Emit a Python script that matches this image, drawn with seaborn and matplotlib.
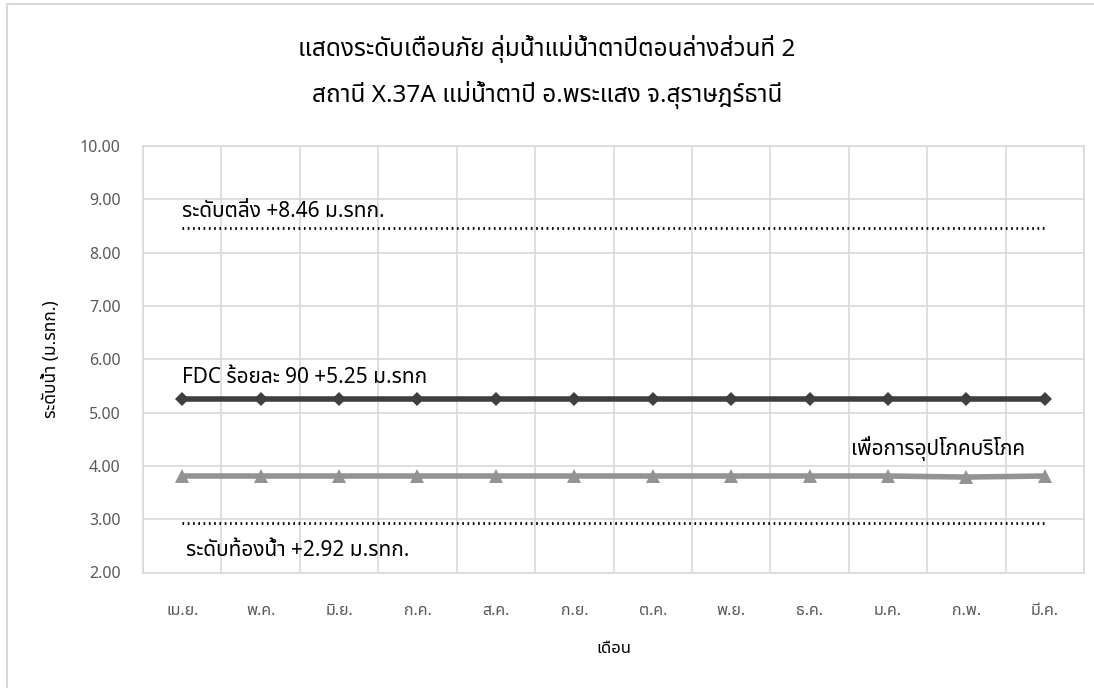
import matplotlib
matplotlib.use("Agg")
import matplotlib.pyplot as plt
import seaborn as sns
import pandas as pd
from matplotlib import font_manager
from matplotlib.patches import Rectangle

months = ["เม.ย.", "พ.ค.", "มิ.ย.", "ก.ค.", "ส.ค.", "ก.ย.", "ต.ค.", "พ.ย.", "ธ.ค.", "ม.ค.", "ก.พ.", "มี.ค."]
bank_level = [8.46] * 12
fdc90 = [5.25] * 12
consumption = [3.81, 3.81, 3.81, 3.81, 3.81, 3.81, 3.81, 3.81, 3.81, 3.81, 3.79, 3.81]
bed_level = [2.92] * 12
yticks = [2.0, 3.0, 4.0, 5.0, 6.0, 7.0, 8.0, 9.0, 10.0]

title = "แสดงระดับเตือนภัย ลุ่มน้ำแม่น้ำตาปีตอนล่างส่วนที่ 2\nสถานี X.37A แม่น้ำตาปี อ.พระแสง จ.สุราษฎร์ธานี"
xlabel = "เดือน"
ylabel = "ระดับน้ำ (ม.รทก.)"
lbl_bank = "ระดับตลิ่ง +8.46 ม.รทก."
lbl_fdc = "FDC ร้อยละ 90 +5.25 ม.รทก"
lbl_cons = "เพื่อการอุปโภคบริโภค"
lbl_bed = "ระดับท้องน้ำ +2.92 ม.รทก."


def find_thai_font():
    try:
        from fontTools.ttLib import TTFont
    except Exception:
        return None
    prefs = ["Noto Sans Thai", "Tahoma", "Loma", "Garuda", "Norasi", "Sarabun", "Kinnari"]
    found = []
    for f in font_manager.fontManager.ttflist:
        try:
            tt = TTFont(f.fname, fontNumber=0, lazy=True)
            cmap = tt.getBestCmap()
            if cmap and 0x0E2A in cmap and 0x0E49 in cmap and 0x0E33 in cmap:
                found.append(f.name)
        except Exception:
            pass
    for p in prefs:
        if p in found:
            return p
    return found[0] if found else None


sns.set_theme(style="white")
thai = find_thai_font()
fams = ([thai] if thai else []) + ["DejaVu Sans"]
plt.rcParams["font.family"] = fams

df = pd.DataFrame({"month": months, "bank": bank_level, "fdc": fdc90,
                   "cons": consumption, "bed": bed_level})

fig = plt.figure(figsize=(10.94, 6.88), dpi=100)
fig.patch.set_facecolor("white")
fig.add_artist(Rectangle((7 / 1094, -0.01), 1.2, 1 - 4 / 688 + 0.01, transform=fig.transFigure,
                         fill=False, edgecolor="#d9d9d9", linewidth=1.5))
ax = fig.add_axes([143 / 1094, 1 - 572.5 / 688, (1084 - 143) / 1094, (572.5 - 146) / 688])

sns.lineplot(data=df, x="month", y="bank", ax=ax, color="black", linewidth=2,
             linestyle=(0, (0.6, 1.3)), sort=False)
sns.lineplot(data=df, x="month", y="bed", ax=ax, color="black", linewidth=2,
             linestyle=(0, (0.6, 1.3)), sort=False)
sns.lineplot(data=df, x="month", y="fdc", ax=ax, color="#3f3f3f", linewidth=4,
             marker="D", markersize=7.5, markeredgewidth=0, sort=False)
sns.lineplot(data=df, x="month", y="cons", ax=ax, color="#939393", linewidth=4,
             marker="^", markersize=10, markeredgewidth=0, sort=False)

ax.set_xlim(-0.5, len(months) - 0.5)
ax.set_ylim(2, 10)
ax.set_yticks(yticks)
ax.set_yticklabels([f"{v:.2f}" for v in yticks])
ax.set_xticks(range(len(months)))
ax.set_xticks([i - 0.5 for i in range(len(months) + 1)], minor=True)
ax.grid(True, which="major", axis="y", color="#d9d9d9", linewidth=1.2)
ax.grid(True, which="minor", axis="x", color="#d9d9d9", linewidth=1.2)
ax.grid(False, which="major", axis="x")
for s in ax.spines.values():
    s.set_color("#d9d9d9")
    s.set_linewidth(1.2)
ax.tick_params(axis="both", which="both", length=0, colors="#595959", labelsize=11.5)
ax.tick_params(axis="x", pad=22)
ax.tick_params(axis="y", pad=16)

ax.set_xlabel(xlabel, fontsize=12, color="black", fontweight="bold", labelpad=16)
ax.set_ylabel(ylabel, fontsize=12.5, color="black", fontweight="bold", labelpad=14)

ax.text(0.0, 8.78, lbl_bank, fontsize=15, color="black", ha="left", va="center")
ax.text(0.0, 5.65, lbl_fdc, fontsize=15, color="black", ha="left", va="center")
ax.text(10.75, 4.32, lbl_cons, fontsize=15, color="black", ha="right", va="center")
ax.text(0.05, 2.42, lbl_bed, fontsize=15, color="black", ha="left", va="center")

fig.text(0.5, 1 - 72 / 688, title, fontsize=17.5, color="black", ha="center", va="center",
         linespacing=1.85)

fig.savefig("out.png", dpi=100, facecolor="white")
